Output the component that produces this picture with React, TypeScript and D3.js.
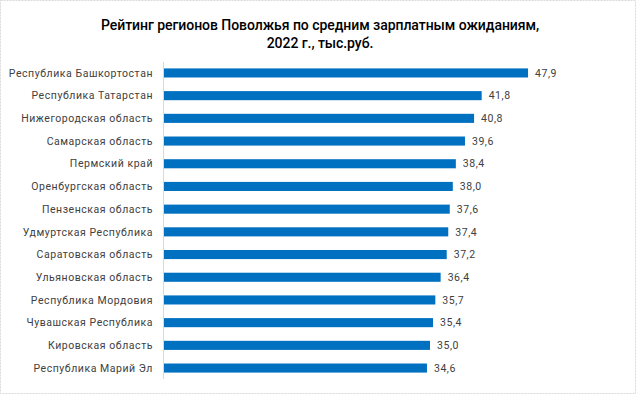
import React from "react";
import * as d3 from "d3";

const regions = [
  "Республика Башкортостан",
  "Республика Татарстан",
  "Нижегородская область",
  "Самарская область",
  "Пермский край",
  "Оренбургская область",
  "Пензенская область",
  "Удмуртская Республика",
  "Саратовская область",
  "Ульяновская  область",
  "Республика Мордовия",
  "Чувашская Республика",
  "Кировская область",
  "Республика Марий Эл",
];
const values = [47.9, 41.8, 40.8, 39.6, 38.4, 38.0, 37.6, 37.4, 37.2, 36.4, 35.7, 35.4, 35.0, 34.6];
const titleLines = [
  "Рейтинг регионов Поволжья по средним зарплатным ожиданиям,",
  "2022 г., тыс.руб.",
];

const W = 636;
const H = 394;

export default function App() {
  const x = d3.scaleLinear().domain([0, 60]).range([164, 620]);
  const y = d3.scaleBand<string>().domain(regions).range([61.6, 379.4]).paddingInner(0.6).paddingOuter(0.3);
  const fmt = (v: number) => v.toFixed(1).replace(".", ",");
  const font = "Roboto, 'Open Sans', sans-serif";
  return (
    <svg width={W} height={H} style={{ position: "fixed", left: 0, top: 0 }} fontFamily={font}>
      <rect x={0.5} y={0.5} width={W - 1} height={H - 1} fill="#fff" stroke="#d9d9d9" strokeDasharray="2,1" />
      {titleLines.map((t, i) => (
        <text key={i} x={320} y={30 + i * 18} textAnchor="middle" fontSize={14} fontWeight={500} fill="#000" letterSpacing={-0.05}>
          {t}
        </text>
      ))}
      {regions.map((r, i) => {
        const yc = (y(r) as number) + y.bandwidth() / 2;
        return (
          <g key={r}>
            <rect x={x(0)} y={y(r)} width={x(values[i]) - x(0)} height={y.bandwidth()} fill="#0070c0" />
            <text x={153} y={yc} dy="0.35em" textAnchor="end" fontSize={10.5} fill="#404040" letterSpacing={0.55}>
              {r}
            </text>
            <text x={x(values[i]) + 7} y={yc} dy="0.35em" fontSize={10.5} fill="#404040" letterSpacing={0.55}>
              {fmt(values[i])}
            </text>
          </g>
        );
      })}
      <line x1={163.5} x2={163.5} y1={62} y2={379} stroke="#d9d9d9" />
    </svg>
  );
}
